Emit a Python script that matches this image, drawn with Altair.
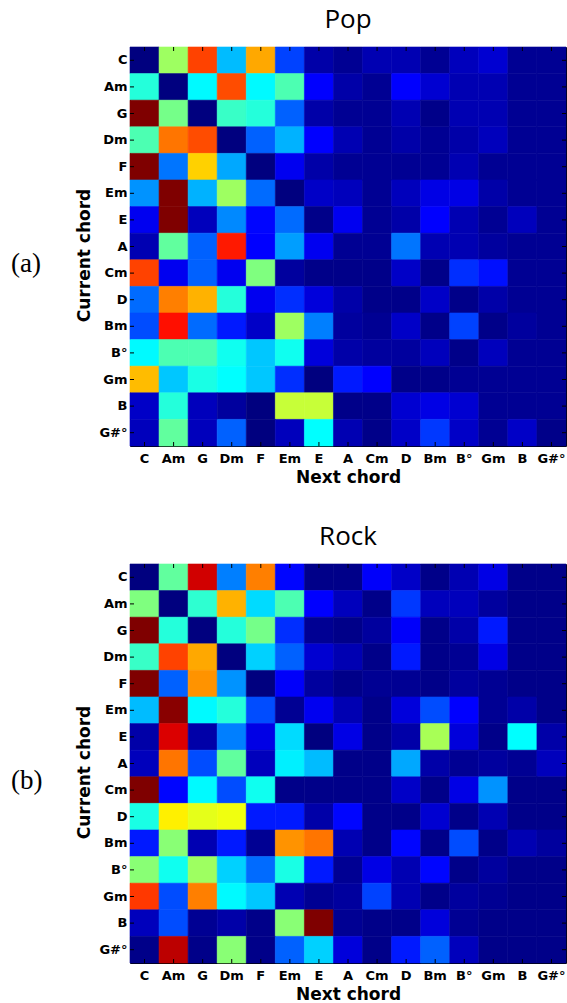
import altair as alt
import pandas as pd

CHORDS = ["C", "Am", "G", "Dm", "F", "Em", "E", "A", "Cm", "D", "Bm", "B°", "Gm", "B", "G#°"]

# rows = current chord, columns = next chord (normalised 0..1 colour level)
POP = [
    [0.00, 0.53, 0.81, 0.31, 0.71, 0.19, 0.04, 0.02, 0.05, 0.05, 0.02, 0.06, 0.08, 0.02, 0.02],
    [0.41, 0.00, 0.37, 0.80, 0.37, 0.45, 0.125, 0.04, 0.02, 0.125, 0.08, 0.05, 0.05, 0.02, 0.02],
    [1.00, 0.49, 0.00, 0.43, 0.41, 0.22, 0.04, 0.02, 0.02, 0.05, 0.01, 0.05, 0.05, 0.02, 0.02],
    [0.45, 0.76, 0.80, 0.00, 0.22, 0.30, 0.125, 0.05, 0.02, 0.04, 0.02, 0.04, 0.06, 0.02, 0.02],
    [1.00, 0.24, 0.67, 0.29, 0.00, 0.11, 0.04, 0.02, 0.02, 0.02, 0.02, 0.05, 0.02, 0.02, 0.02],
    [0.27, 1.00, 0.30, 0.53, 0.23, 0.00, 0.07, 0.06, 0.02, 0.06, 0.10, 0.10, 0.04, 0.02, 0.02],
    [0.11, 1.00, 0.06, 0.26, 0.13, 0.23, 0.01, 0.11, 0.02, 0.04, 0.125, 0.05, 0.02, 0.06, 0.02],
    [0.05, 0.47, 0.22, 0.85, 0.125, 0.28, 0.11, 0.02, 0.02, 0.24, 0.05, 0.05, 0.03, 0.02, 0.02],
    [0.81, 0.11, 0.22, 0.11, 0.50, 0.03, 0.01, 0.01, 0.01, 0.07, 0.01, 0.17, 0.14, 0.02, 0.02],
    [0.23, 0.75, 0.70, 0.41, 0.11, 0.17, 0.09, 0.04, 0.01, 0.01, 0.07, 0.01, 0.04, 0.02, 0.02],
    [0.20, 0.86, 0.23, 0.15, 0.07, 0.53, 0.25, 0.03, 0.02, 0.07, 0.01, 0.19, 0.01, 0.03, 0.02],
    [0.37, 0.45, 0.45, 0.39, 0.32, 0.39, 0.09, 0.04, 0.03, 0.03, 0.06, 0.01, 0.06, 0.02, 0.02],
    [0.69, 0.32, 0.40, 0.375, 0.32, 0.17, 0.00, 0.15, 0.125, 0.01, 0.01, 0.02, 0.02, 0.02, 0.02],
    [0.07, 0.41, 0.06, 0.03, 0.00, 0.57, 0.57, 0.01, 0.01, 0.08, 0.10, 0.08, 0.02, 0.02, 0.02],
    [0.06, 0.47, 0.06, 0.22, 0.00, 0.06, 0.375, 0.05, 0.01, 0.07, 0.18, 0.07, 0.02, 0.07, 0.01],
]

ROCK = [
    [0.00, 0.47, 0.92, 0.25, 0.75, 0.13, 0.01, 0.01, 0.12, 0.07, 0.01, 0.05, 0.10, 0.01, 0.01],
    [0.50, 0.00, 0.42, 0.70, 0.34, 0.45, 0.125, 0.06, 0.01, 0.18, 0.06, 0.06, 0.03, 0.01, 0.01],
    [1.00, 0.41, 0.00, 0.41, 0.49, 0.17, 0.02, 0.01, 0.03, 0.12, 0.01, 0.04, 0.15, 0.01, 0.01],
    [0.43, 0.81, 0.71, 0.00, 0.33, 0.22, 0.08, 0.05, 0.01, 0.15, 0.01, 0.02, 0.10, 0.01, 0.01],
    [1.00, 0.22, 0.73, 0.27, 0.00, 0.12, 0.03, 0.01, 0.02, 0.02, 0.01, 0.03, 0.02, 0.01, 0.01],
    [0.31, 0.99, 0.37, 0.41, 0.20, 0.02, 0.11, 0.05, 0.01, 0.09, 0.20, 0.125, 0.02, 0.04, 0.01],
    [0.04, 0.91, 0.04, 0.25, 0.10, 0.34, 0.00, 0.10, 0.01, 0.04, 0.54, 0.09, 0.01, 0.375, 0.04],
    [0.06, 0.76, 0.20, 0.47, 0.06, 0.36, 0.31, 0.01, 0.01, 0.29, 0.04, 0.02, 0.03, 0.02, 0.06],
    [1.00, 0.13, 0.37, 0.20, 0.39, 0.01, 0.01, 0.01, 0.01, 0.07, 0.01, 0.10, 0.27, 0.01, 0.01],
    [0.40, 0.64, 0.60, 0.61, 0.15, 0.15, 0.04, 0.13, 0.01, 0.01, 0.08, 0.01, 0.05, 0.01, 0.01],
    [0.15, 0.51, 0.05, 0.15, 0.02, 0.73, 0.76, 0.05, 0.01, 0.13, 0.01, 0.20, 0.01, 0.05, 0.03],
    [0.51, 0.39, 0.53, 0.33, 0.23, 0.40, 0.15, 0.02, 0.10, 0.05, 0.13, 0.01, 0.03, 0.01, 0.01],
    [0.82, 0.20, 0.75, 0.37, 0.32, 0.05, 0.02, 0.03, 0.19, 0.05, 0.01, 0.03, 0.02, 0.01, 0.01],
    [0.06, 0.20, 0.02, 0.04, 0.01, 0.51, 1.00, 0.02, 0.01, 0.01, 0.09, 0.02, 0.01, 0.01, 0.01],
    [0.01, 0.94, 0.01, 0.51, 0.01, 0.22, 0.33, 0.09, 0.01, 0.15, 0.22, 0.06, 0.01, 0.01, 0.01],
]

JET = ["#00007F", "#0000FF", "#007FFF", "#00FFFF", "#7FFF7F",
       "#FFFF00", "#FF7F00", "#FF0000", "#7F0000"]

W, H = 436, 399
LABEL_FONT = "DejaVu Sans"


def panel(title, tag, matrix):
    df = pd.DataFrame([
        {"cur": r, "nxt": c, "v": matrix[i][j]}
        for i, r in enumerate(CHORDS) for j, c in enumerate(CHORDS)
    ])
    ticks_df = pd.DataFrame({"nxt": CHORDS, "cur": CHORDS})
    xs = alt.Scale(domain=CHORDS, paddingInner=0, paddingOuter=0)
    ys = alt.Scale(domain=CHORDS, paddingInner=0, paddingOuter=0)
    cs = alt.Scale(domain=[0, 1], range=JET, interpolate="rgb")
    x = alt.X("nxt:N", sort=CHORDS, scale=xs,
              axis=alt.Axis(title="Next chord", labelAngle=0, ticks=False, tickSize=0,
                            domain=False, labelPadding=6, labelFont=LABEL_FONT,
                            labelFontSize=13, labelFontWeight="bold", labelColor="black",
                            titleFont=LABEL_FONT, titleFontSize=17, titleFontWeight="bold",
                            titleColor="black", titleX=218, titleY=36,
                            titleAlign="center", titleBaseline="alphabetic"))
    y = alt.Y("cur:N", sort=CHORDS, scale=ys,
              axis=alt.Axis(title="Current chord", ticks=False, tickSize=0, domain=False,
                            labelPadding=3, labelFont=LABEL_FONT, labelFontSize=13,
                            labelFontWeight="bold", labelColor="black",
                            titleFont=LABEL_FONT, titleFontSize=17, titleFontWeight="bold",
                            titleColor="black", titleX=-46, titleY=208, titleAngle=270,
                            titleAlign="center", titleBaseline="middle"))
    heat = alt.Chart(df).mark_rect(strokeWidth=0.6).encode(
        x=x, y=y,
        color=alt.Color("v:Q", legend=None, scale=cs),
        stroke=alt.Color("v:Q", legend=None, scale=cs),
    )
    tick_top = alt.Chart(ticks_df).mark_rule(color="black", strokeWidth=1).encode(
        x=alt.X("nxt:N", sort=CHORDS, scale=xs), y=alt.value(0), y2=alt.value(4))
    tick_bot = alt.Chart(ticks_df).mark_rule(color="black", strokeWidth=1).encode(
        x=alt.X("nxt:N", sort=CHORDS, scale=xs), y=alt.value(H - 4), y2=alt.value(H))
    tick_left = alt.Chart(ticks_df).mark_rule(color="black", strokeWidth=1).encode(
        y=alt.Y("cur:N", sort=CHORDS, scale=ys), x=alt.value(0), x2=alt.value(4))
    tick_right = alt.Chart(ticks_df).mark_rule(color="black", strokeWidth=1).encode(
        y=alt.Y("cur:N", sort=CHORDS, scale=ys), x=alt.value(W - 4), x2=alt.value(W))
    ttl = alt.Chart(pd.DataFrame({"t": [title]})).mark_text(
        font="Open Sans", fontSize=26, align="center", baseline="alphabetic", color="black"
    ).encode(text="t:N", x=alt.value(W / 2), y=alt.value(-19))
    lab = alt.Chart(pd.DataFrame({"t": [tag]})).mark_text(
        font="Liberation Serif", fontSize=27, align="left", baseline="middle", color="black"
    ).encode(text="t:N", x=alt.value(-119), y=alt.value(217))
    return alt.layer(heat, tick_top, tick_bot, tick_left, tick_right, ttl, lab).properties(
        width=W, height=H)


pop = panel("Pop", "(a)", POP)
rock = panel("Rock", "(b)", ROCK)

chart = alt.vconcat(pop, rock, spacing=37).properties(
    padding={"left": 10, "top": 6, "right": 0, "bottom": 0},
    background="white",
).configure_view(stroke="black", strokeWidth=1)

chart.save("out.html", embed_options={"renderer": "svg", "actions": False})
